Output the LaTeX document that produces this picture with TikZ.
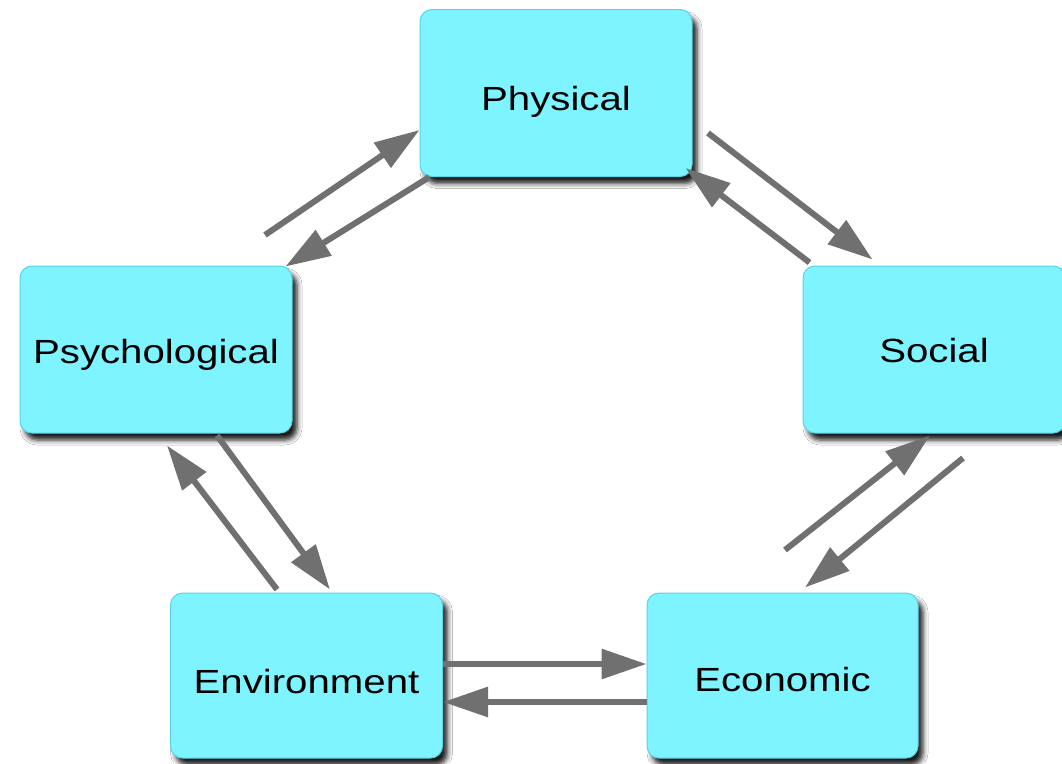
\documentclass[tikz,border=0pt]{standalone}
\usepackage{fontspec}
\setmainfont{Liberation Sans}
\usetikzlibrary{arrows.meta,shadows.blur,calc}
\definecolor{boxfill}{RGB}{125,244,255}
\definecolor{boxedge}{RGB}{88,212,232}
\definecolor{arrowgray}{RGB}{112,112,112}
% labels are set slightly wider than the plain font
\newcommand{\widelabel}[1]{\scalebox{1.2}[1]{#1}}
\tikzset{
  factor/.style={draw=boxedge, line width=1pt, fill=boxfill, rounded corners=12pt,
    minimum width=272pt, minimum height=167pt, inner sep=0pt,
    blur shadow={shadow xshift=5pt, shadow yshift=-7pt, shadow blur radius=5pt, shadow opacity=90}},
  factortext/.style={font=\fontsize{33.5}{40}\selectfont, inner sep=0pt},
  link/.style={draw=arrowgray, line width=6pt, -{Triangle[length=45pt,width=29pt]}}
}
\begin{document}
\begin{tikzpicture}[x=1pt,y=-1pt]
\useasboundingbox[fill=white] (0,0) rectangle (1062,763);

% the five factors, each with its name set a little below the middle
\node[factor, label={[factortext, yshift=-9pt]center:\widelabel{Physical}}] (phys) at (556,93) {};
\node[factor, label={[factortext, yshift=-5pt]center:\widelabel{Psychological}}] (psych) at (156,349.5) {};
\node[factor, minimum width=262pt, label={[factortext, yshift=-1pt]center:\widelabel{Social}}] (social) at (934,349.5) {};
\node[factor, minimum height=165pt, label={[factortext, yshift=-6pt]center:\widelabel{Environment}}] (env) at (306.5,675.5) {};
\node[factor, minimum width=271pt, minimum height=165pt, label={[factortext, yshift=-4pt]center:\widelabel{Economic}}] (econ) at (782.5,675.5) {};

% free tails of some arrows
\coordinate (tailA) at (265,235);
\coordinate (tailB) at (708,133);
\coordinate (tailC) at (785,550);
\coordinate (tailD) at (963,458);

% Physical <-> Psychological
\draw[link] (tailA) -- ($(phys.south west)+(0,-47)$);
\draw[link] ($(phys.south west)+(10,0)$) -- ($(psych.north east)+(-7,1)$);

% Physical <-> Social
\draw[link] (tailB) -- ($(social.north west)+(70,-6)$);
\draw[link] ($(social.north west)+(7,-3)$) -- ($(phys.south east)+(-7,-9)$);

% Psychological <-> Environment
\draw[link] ($(env.north west)+(107,-3)$) -- ($(psych.south)+(11,12)$);
\draw[link] ($(psych.south)+(61,2)$) -- ($(env.north)+(23.5,-3)$);

% Social <-> Economic
\draw[link] (tailC) -- ($(social.south)+(-4,2)$);
\draw[link] (tailD) -- ($(econ.north)+(22.5,-5)$);

% Environment <-> Economic
\draw[link] ($(env.east)+(0,-11.5)$) -- ($(econ.west)+(0,-11.5)$);
\draw[link] ($(econ.west)+(0,26.5)$) -- ($(env.east)+(0,26.5)$);
\end{tikzpicture}
\end{document}
